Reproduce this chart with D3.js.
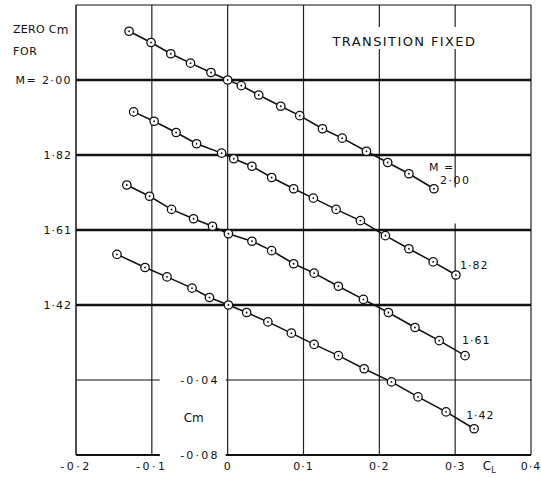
<!DOCTYPE html>
<html>
<head>
<meta charset="utf-8">
<script src="https://cdn.jsdelivr.net/npm/d3@7"></script>
<style>
  body { margin: 0; background: #fff; }
  text { font-family: "DejaVu Sans", sans-serif; fill: #111; }
</style>
</head>
<body>
<svg id="chart"></svg>
<script>
// values; each Mach series is drawn about its own zero line
const machLabels = ['2·00', '1·82', '1·61', '1·42'];
const zeroOffsets = [0.12, 0.08, 0.04, 0];

const clM200 = [-0.130, -0.101, -0.075, -0.049, -0.022, 0.000, 0.018, 0.041, 0.070, 0.095, 0.125, 0.151, 0.183, 0.211, 0.239, 0.272];
const cmM200 = [0.026, 0.020, 0.014, 0.009, 0.004, 0.000, -0.003, -0.008, -0.014, -0.019, -0.026, -0.031, -0.038, -0.044, -0.050, -0.058];

const clM182 = [-0.124, -0.097, -0.068, -0.041, -0.008, 0.008, 0.032, 0.058, 0.087, 0.113, 0.143, 0.175, 0.208, 0.239, 0.271, 0.301];
const cmM182 = [0.023, 0.018, 0.012, 0.006, 0.001, -0.002, -0.006, -0.012, -0.018, -0.023, -0.029, -0.035, -0.043, -0.050, -0.057, -0.064];

const clM161 = [-0.133, -0.103, -0.074, -0.045, -0.020, 0.001, 0.032, 0.058, 0.087, 0.114, 0.146, 0.179, 0.212, 0.247, 0.279, 0.313];
const cmM161 = [0.024, 0.018, 0.011, 0.006, 0.002, -0.002, -0.006, -0.011, -0.018, -0.023, -0.030, -0.037, -0.044, -0.052, -0.059, -0.067];

const clM142 = [-0.146, -0.109, -0.080, -0.047, -0.024, 0.001, 0.025, 0.053, 0.084, 0.114, 0.146, 0.180, 0.216, 0.251, 0.288, 0.325];
const cmM142 = [0.027, 0.020, 0.015, 0.009, 0.004, 0.000, -0.004, -0.009, -0.015, -0.021, -0.027, -0.034, -0.041, -0.049, -0.057, -0.066];

const xTicks = [-0.2, -0.1, 0, 0.1, 0.2, 0.3, 0.4];
const xTickLabels = ['-0·2', '-0·1', '0', '0·1', '0·2', '0·3', '0·4'];
const yGrid = [0.16, 0.12, 0.08, 0.04, 0, -0.04, -0.08];
const cmTicks = [-0.04, -0.08];
const cmTickLabels = ['-0·04', '-0·08'];

const width = 541, height = 478;

const svg = d3.select('#chart')
  .attr('width', width)
  .attr('height', height);

svg.append('rect').attr('width', width).attr('height', height).attr('fill', '#fff');

const x = d3.scaleLinear().domain([-0.2, 0.4]).range([76, 531]);
const y = d3.scaleLinear().domain([-0.08, 0.16]).range([455, 5]);

const series = [
  { cl: clM200, cm: cmM200 },
  { cl: clM182, cm: cmM182 },
  { cl: clM161, cm: cmM161 },
  { cl: clM142, cm: cmM142 }
].map((s, i) => ({
  label: machLabels[i],
  off: zeroOffsets[i],
  pts: s.cl.map((c, j) => [c, s.cm[j] + zeroOffsets[i]])
}));

// grid
const grid = svg.append('g');
grid.selectAll('line.v')
  .data(xTicks)
  .enter()
  .append('line')
  .attr('x1', d => x(d)).attr('x2', d => x(d))
  .attr('y1', y(0.16)).attr('y2', y(-0.08))
  .attr('stroke', '#222')
  .attr('stroke-width', (d, i) => i == 0 ? 1.6 : 1.2);

grid.selectAll('line.h')
  .data(yGrid)
  .enter()
  .append('line')
  .attr('x1', x(-0.2)).attr('x2', x(0.4))
  .attr('y1', d => y(d)).attr('y2', d => y(d))
  .attr('stroke', '#111')
  .attr('stroke-width', d => {
    if (zeroOffsets.includes(d)) return 2.6;
    if (d == -0.08) return 2;
    return 1.1;
  });

// white patches where the lettering breaks the grid
const patches = svg.append('g').attr('fill', '#fff');
patches.append('rect')
  .attr('x', x(0.14)).attr('y', y(0.16) + 22)
  .attr('width', x(0.38) - x(0.14)).attr('height', 22);
patches.append('rect')
  .attr('x', x(0.28)).attr('y', y(0.06) - 5)
  .attr('width', 30).attr('height', 36);
cmTicks.forEach(t => {
  patches.append('rect')
    .attr('x', x(-0.1) + 8).attr('y', y(t) - 6)
    .attr('width', x(0) - x(-0.1) - 10).attr('height', 12);
});

// series lines and markers
const line = d3.line().x(d => x(d[0])).y(d => y(d[1]));

const sg = svg.selectAll('g.series')
  .data(series)
  .enter()
  .append('g')
  .attr('class', 'series');

sg.append('path')
  .attr('d', d => line(d.pts))
  .attr('fill', 'none')
  .attr('stroke', '#111')
  .attr('stroke-width', 1.6);

sg.selectAll('circle.mk')
  .data(d => d.pts)
  .enter()
  .append('circle')
  .attr('cx', d => x(d[0]))
  .attr('cy', d => y(d[1]))
  .attr('r', 4.2)
  .attr('fill', '#fff')
  .attr('stroke', '#111')
  .attr('stroke-width', 1.3);

sg.selectAll('circle.dot')
  .data(d => d.pts)
  .enter()
  .append('circle')
  .attr('cx', d => x(d[0]))
  .attr('cy', d => y(d[1]))
  .attr('r', 0.9)
  .attr('fill', '#111');

// end labels (nudged like the hand lettering)
const endDx = [0, 4, -3, -8];
const endDy = [0, -6, -12, -10];
series.forEach((s, i) => {
  const last = s.pts[s.pts.length - 1];
  if (i == 0) {
    svg.append('text')
      .attr('x', x(last[0]) - 5).attr('y', y(last[1]) - 18)
      .attr('font-size', 11).attr('letter-spacing', 1)
      .text('M =');
    svg.append('text')
      .attr('x', x(last[0]) + 6).attr('y', y(last[1]) - 5)
      .attr('font-size', 11).attr('letter-spacing', 1.5)
      .text(s.label);
  } else {
    svg.append('text')
      .attr('x', x(last[0]) + endDx[i]).attr('y', y(last[1]) + endDy[i])
      .attr('font-size', 11).attr('letter-spacing', 1)
      .text(s.label);
  }
});

// left side labels for the zero lines
svg.append('text').attr('x', 13).attr('y', y(0.12) - 47)
  .attr('font-size', 11).attr('letter-spacing', 0.3)
  .text('ZERO C')
  .append('tspan').attr('font-size', 12).attr('dy', 1).text('m');
svg.append('text').attr('x', 13).attr('y', y(0.12) - 25)
  .attr('font-size', 11).attr('letter-spacing', 0.6)
  .text('FOR');
svg.append('text').attr('x', 72).attr('y', y(0.12) + 4)
  .attr('text-anchor', 'end')
  .attr('font-size', 11).attr('letter-spacing', 1.4)
  .text('M= ' + machLabels[0]);

svg.selectAll('text.ylab')
  .data(machLabels.slice(1))
  .enter()
  .append('text')
  .attr('x', 72)
  .attr('y', (d, i) => y(zeroOffsets[i + 1]) + 4)
  .attr('text-anchor', 'end')
  .attr('font-size', 11).attr('letter-spacing', 1)
  .text(d => d);

svg.selectAll('text.cmlab')
  .data(cmTicks)
  .enter()
  .append('text')
  .attr('x', x(0) - 8)
  .attr('y', d => y(d) + 4)
  .attr('text-anchor', 'end')
  .attr('font-size', 11).attr('letter-spacing', 2.2)
  .text((d, i) => cmTickLabels[i]);

svg.append('text').attr('x', x(-0.058)).attr('y', y(-0.06) + 4)
  .attr('font-size', 12)
  .text('C')
  .append('tspan').attr('font-size', 12).text('m');

// x tick labels
svg.selectAll('text.xlab')
  .data(xTicks)
  .enter()
  .append('text')
  .attr('x', d => x(d))
  .attr('y', y(-0.08) + 15)
  .attr('text-anchor', 'middle')
  .attr('font-size', 11).attr('letter-spacing', d => d < 0 ? 2.5 : 1)
  .text((d, i) => xTickLabels[i]);

svg.append('text').attr('x', x(0.345)).attr('y', y(-0.08) + 15)
  .attr('text-anchor', 'middle')
  .attr('font-size', 12)
  .text('C')
  .append('tspan').attr('font-size', 8).attr('dy', 3).text('L');

svg.append('text').attr('x', x(0.1) + 29).attr('y', y(0.16) + 41)
  .attr('font-size', 13).attr('letter-spacing', 1.4)
  .text('TRANSITION FIXED');
</script>
</body>
</html>
